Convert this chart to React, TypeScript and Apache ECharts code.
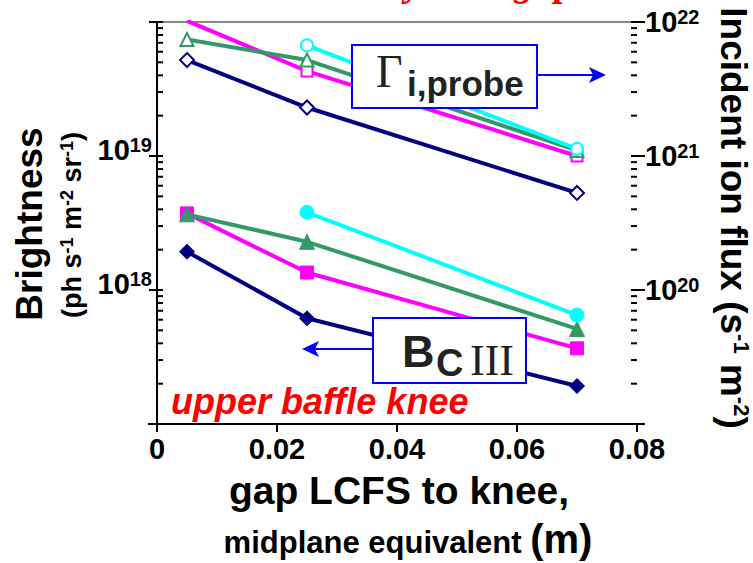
import React, { useEffect, useRef } from 'react';
import * as echarts from 'echarts';

// Gap between LCFS and the upper baffle knee (m, midplane equivalent)
const GAP_M = [0.005, 0.025, 0.07];

// Incident ion flux from probes (s^-1 m^-2), right axis, open markers
const FLUX_NAVY = [5.2e21, 2.3e21, 5.3e20];
const FLUX_GREEN = [7.4e21, 5.2e21, 1.1e21];
const FLUX_MAGENTA = [1.02e22, 4.3e21, 1.0e21];
const FLUX_CYAN = [null, 6.7e21, 1.13e21];

// C III brightness (ph s^-1 m^-2 sr^-1), left axis, filled markers
const BRIGHT_NAVY = [1.93e18, 6.15e17, 1.92e17];
const BRIGHT_MAGENTA = [3.73e18, 1.35e18, 3.67e17];
const BRIGHT_GREEN = [3.67e18, 2.29e18, 5.12e17];
const BRIGHT_CYAN = [null, 3.8e18, 6.5e17];

// Decade exponents that carry a tick label on each axis
const LEFT_LABEL_EXP = [18, 19];
const RIGHT_LABEL_EXP = [20, 21, 22];

const SANS = '"Liberation Sans", Arial, Helvetica, sans-serif';
const SERIF = '"Liberation Serif", "Times New Roman", serif';

const NAVY = '#000080';
const MAGENTA = '#ff00ff';
const GREEN = '#339966';
const CYAN = '#00ffff';
const BLUE = '#0000ff';

function pairs(values: (number | null)[]) {
  const out: number[][] = [];
  values.forEach((v, i) => {
    if (v !== null) out.push([GAP_M[i], v]);
  });
  return out;
}

function lineSeries(
  values: (number | null)[],
  color: string,
  symbol: string,
  size: number,
  open: boolean,
  yAxisIndex: number,
  z: number
) {
  return {
    type: 'line',
    yAxisIndex,
    data: pairs(values),
    symbol,
    symbolSize: size,
    clip: true,
    z,
    lineStyle: { color, width: 4 },
    itemStyle: open
      ? { color: '#ffffff', borderColor: color, borderWidth: 2 }
      : { color, borderColor: color, borderWidth: 1 },
    emphasis: { disabled: true },
  };
}

// Log-decade tick positions: 1..9 x 10^e for each decade, plus the top end
function logTicks(fromExp: number, toExp: number) {
  const out: number[][] = [];
  for (let e = fromExp; e < toExp; e++) {
    for (let k = 1; k <= 9; k++) out.push([k * Math.pow(10, e), k === 1 ? 1 : 0]);
  }
  out.push([Math.pow(10, toExp), 1]);
  return out;
}

function tickSeries(xValue: number, yAxisIndex: number, fromExp: number, toExp: number, side: 'left' | 'right') {
  return {
    type: 'custom',
    yAxisIndex,
    clip: false,
    silent: true,
    z: 5,
    data: logTicks(fromExp, toExp).map((t) => [xValue, t[0], t[1]]),
    renderItem: (_params: any, api: any) => {
      const p = api.coord([api.value(0), api.value(1)]);
      const major = api.value(2) === 1;
      const inner = 6;
      const outer = major ? 8 : 0;
      const x1 = side === 'left' ? p[0] - outer : p[0] - inner;
      const x2 = side === 'left' ? p[0] + inner : p[0] + outer;
      return {
        type: 'line',
        shape: { x1, y1: p[1], x2, y2: p[1] },
        style: { stroke: '#000', lineWidth: 2 },
      };
    },
  };
}

const supRich = {
  b: { fontFamily: SANS, fontWeight: 'bold', fontSize: 29, color: '#000', lineHeight: 30 },
  s: { fontFamily: SANS, fontWeight: 'bold', fontSize: 20, color: '#000', lineHeight: 20, verticalAlign: 'top' },
};

export default function App() {
  const ref = useRef<HTMLDivElement>(null);

  useEffect(() => {
    if (!ref.current) return;
    const chart = echarts.init(ref.current, undefined, { renderer: 'svg' });

    const option = {
      animation: false,
      backgroundColor: '#ffffff',
      grid: { left: 157, right: 116, top: 22, bottom: 139, containLabel: false },
      xAxis: [
        {
          type: 'value',
          min: 0,
          max: 0.08,
          interval: 0.02,
          axisLine: { show: true, lineStyle: { color: '#000', width: 2 } },
          axisTick: { show: true, inside: false, length: 8, lineStyle: { color: '#000', width: 2 } },
          axisLabel: {
            margin: 10,
            fontFamily: SANS,
            fontWeight: 'bold',
            fontSize: 29,
            color: '#000',
            formatter: (v: number) => (v === 0 ? '0' : v.toFixed(2)),
          },
          splitLine: { show: false },
        },
        {
          type: 'value',
          position: 'top',
          min: 0,
          max: 0.08,
          axisLine: { show: true, lineStyle: { color: '#888', width: 2 } },
          axisTick: { show: false },
          axisLabel: { show: false },
          splitLine: { show: false },
        },
      ],
      yAxis: [
        {
          type: 'log',
          logBase: 10,
          min: 1e17,
          max: 1e20,
          position: 'left',
          axisLine: { show: true, lineStyle: { color: '#000', width: 2 } },
          axisTick: { show: false },
          splitLine: { show: false },
          axisLabel: {
            margin: 5,
            padding: [0, 0, 12, 0],
            formatter: (v: number) => {
              const e = Math.round(Math.log10(v));
              return LEFT_LABEL_EXP.includes(e) ? `{b|10}{s|${e}}` : '';
            },
            rich: supRich,
          },
        },
        {
          type: 'log',
          logBase: 10,
          min: 1e19,
          max: 1e22,
          position: 'right',
          axisLine: { show: true, lineStyle: { color: '#000', width: 2 } },
          axisTick: { show: false },
          splitLine: { show: false },
          axisLabel: {
            margin: 8,
            formatter: (v: number) => {
              const e = Math.round(Math.log10(v));
              return RIGHT_LABEL_EXP.includes(e) ? `{b|10}{s|${e}}` : '';
            },
            rich: supRich,
          },
        },
      ],
      series: [
        tickSeries(0, 0, 17, 20, 'left'),
        tickSeries(0.08, 1, 19, 22, 'right'),
        // probe ion flux, open symbols
        lineSeries(FLUX_MAGENTA, MAGENTA, 'rect', 11, true, 1, 10),
        lineSeries(FLUX_GREEN, GREEN, 'triangle', 13, true, 1, 11),
        lineSeries(FLUX_CYAN, CYAN, 'circle', 12, true, 1, 12),
        lineSeries(FLUX_NAVY, NAVY, 'diamond', 14, true, 1, 13),
        // C III brightness, filled symbols
        lineSeries(BRIGHT_MAGENTA, MAGENTA, 'rect', 13, false, 0, 10),
        lineSeries(BRIGHT_GREEN, GREEN, 'triangle', 15, false, 0, 11),
        lineSeries(BRIGHT_CYAN, CYAN, 'circle', 14, false, 0, 12),
        lineSeries(BRIGHT_NAVY, NAVY, 'diamond', 15, false, 0, 13),
      ],
      graphic: [
        // heading, mostly above the visible page
        {
          type: 'text',
          x: 240,
          y: 1,
          z: 100,
          style: {
            text: 'Both decay with gap',
            fill: '#ff0000',
            fontFamily: SERIF,
            fontStyle: 'italic',
            fontWeight: 'bold',
            fontSize: 40,
            align: 'left',
            verticalAlign: 'bottom',
          },
        },
        // y axis titles
        {
          type: 'text',
          x: 29,
          y: 224,
          rotation: Math.PI / 2,
          z: 100,
          style: {
            text: 'Brightness',
            fill: '#000',
            fontFamily: SANS,
            fontWeight: 'bold',
            fontSize: 37,
            align: 'center',
            verticalAlign: 'middle',
          },
        },
        {
          type: 'text',
          x: 72,
          y: 225,
          rotation: Math.PI / 2,
          z: 100,
          style: {
            text: '{m|(ph s}{s|-1}{m| m}{s|-2}{m| sr}{s|-1}{m|)}',
            align: 'center',
            verticalAlign: 'middle',
            rich: {
              m: { fontFamily: SANS, fontWeight: 'bold', fontSize: 27, fill: '#000', lineHeight: 28 },
              s: { fontFamily: SANS, fontWeight: 'bold', fontSize: 18, fill: '#000', lineHeight: 18, verticalAlign: 'top' },
            },
          },
        },
        {
          type: 'text',
          x: 733,
          y: 218,
          rotation: -Math.PI / 2,
          z: 100,
          style: {
            text: '{m|Incident ion flux (s}{s|-1}{m| m}{s|-2}{m|)}',
            align: 'center',
            verticalAlign: 'middle',
            rich: {
              m: { fontFamily: SANS, fontWeight: 'bold', fontSize: 37, fill: '#000', lineHeight: 38 },
              s: { fontFamily: SANS, fontWeight: 'bold', fontSize: 22, fill: '#000', lineHeight: 22, verticalAlign: 'top' },
            },
          },
        },
        // x axis title
        {
          type: 'text',
          x: 399,
          y: 490,
          z: 100,
          style: {
            text: 'gap LCFS to knee,',
            fill: '#000',
            fontFamily: SANS,
            fontWeight: 'bold',
            fontSize: 39,
            align: 'center',
            verticalAlign: 'middle',
          },
        },
        {
          type: 'text',
          x: 408,
          y: 539,
          z: 100,
          style: {
            text: '{a|midplane equivalent }{b|(m)}',
            align: 'center',
            verticalAlign: 'middle',
            rich: {
              a: { fontFamily: SANS, fontWeight: 'bold', fontSize: 31, fill: '#000', lineHeight: 38, verticalAlign: 'bottom' },
              b: { fontFamily: SANS, fontWeight: 'bold', fontSize: 40, fill: '#000', lineHeight: 38 },
            },
          },
        },
        // x axis line overhang
        {
          type: 'line',
          z: 100,
          shape: { x1: 148, y1: 424, x2: 645, y2: 424 },
          style: { stroke: '#000', lineWidth: 2 },
        },
        // probe flux key, arrow towards the right axis
        {
          type: 'line',
          z: 99,
          shape: { x1: 537, y1: 75, x2: 598, y2: 75 },
          style: { stroke: BLUE, lineWidth: 2 },
        },
        {
          type: 'polygon',
          z: 99,
          shape: { points: [[589, 67], [606, 75], [589, 83], [593, 75]] },
          style: { fill: BLUE },
        },
        {
          type: 'group',
          x: 352,
          y: 45,
          z: 100,
          children: [
            {
              type: 'rect',
              z: 100,
              shape: { x: 0, y: 0, width: 185, height: 63 },
              style: { fill: '#fff', stroke: BLUE, lineWidth: 2 },
            },
            {
              type: 'text',
              x: 24,
              y: 49,
              z: 101,
              style: {
                text: 'Γ',
                fill: '#222',
                fontFamily: SERIF,
                fontSize: 46,
                align: 'left',
                verticalAlign: 'bottom',
              },
            },
            {
              type: 'text',
              x: 55,
              y: 56,
              z: 101,
              style: {
                text: 'i,probe',
                fill: '#222',
                fontFamily: SANS,
                fontWeight: 'bold',
                fontSize: 35,
                align: 'left',
                verticalAlign: 'bottom',
              },
            },
          ],
        },
        // C III brightness key, arrow towards the left axis
        {
          type: 'line',
          z: 99,
          shape: { x1: 373, y1: 349, x2: 310, y2: 349 },
          style: { stroke: BLUE, lineWidth: 2 },
        },
        {
          type: 'polygon',
          z: 99,
          shape: { points: [[319, 341], [302, 349], [319, 357], [315, 349]] },
          style: { fill: BLUE },
        },
        {
          type: 'group',
          x: 373,
          y: 318,
          z: 100,
          children: [
            {
              type: 'rect',
              z: 100,
              shape: { x: 0, y: 0, width: 153, height: 65 },
              style: { fill: '#fff', stroke: BLUE, lineWidth: 2 },
            },
            {
              type: 'text',
              x: 29,
              y: 33,
              z: 101,
              style: {
                text: 'B',
                fill: '#222',
                fontFamily: SANS,
                fontWeight: 'bold',
                fontSize: 45,
                lineHeight: 40,
                align: 'left',
                verticalAlign: 'middle',
              },
            },
            {
              type: 'text',
              x: 63,
              y: 45,
              z: 101,
              style: {
                text: 'C',
                fill: '#222',
                fontFamily: SANS,
                fontWeight: 'bold',
                fontSize: 38,
                lineHeight: 28,
                align: 'left',
                verticalAlign: 'middle',
              },
            },
            {
              type: 'text',
              x: 97,
              y: 42,
              z: 101,
              style: {
                text: 'III',
                fill: '#222',
                fontFamily: SERIF,
                fontSize: 44,
                lineHeight: 30,
                align: 'left',
                verticalAlign: 'middle',
              },
            },
          ],
        },
        // location tag
        {
          type: 'text',
          x: 171,
          y: 401,
          z: 100,
          style: {
            text: 'upper baffle knee',
            fill: '#ff0000',
            fontFamily: SANS,
            fontStyle: 'italic',
            fontWeight: 'bold',
            fontSize: 36,
            lineHeight: 32,
            align: 'left',
            verticalAlign: 'middle',
          },
        },
      ],
    };

    chart.setOption(option as any);
    return () => chart.dispose();
  }, []);

  return (
    <div
      ref={ref}
      style={{ position: 'absolute', left: 0, top: 0, width: 753, height: 563, background: '#fff' }}
    />
  );
}
